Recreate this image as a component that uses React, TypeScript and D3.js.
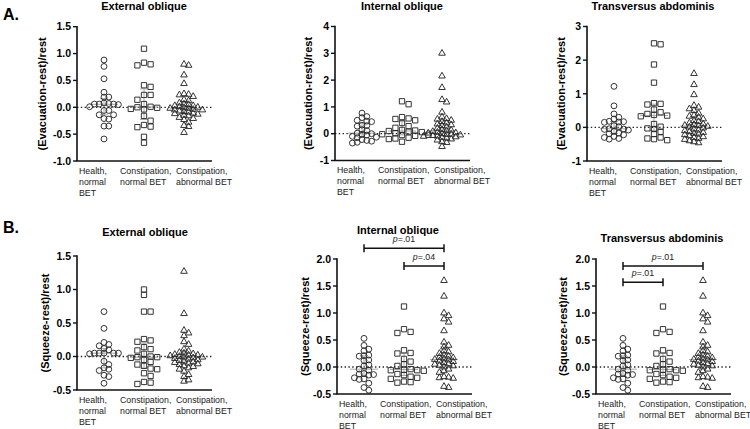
import * as d3 from 'd3';

const W = 750;
const H = 429;
const FONT = '"Liberation Sans", Arial, sans-serif';

// category labels (split in lines like the original)
const groups = ['Health, normal BET', 'Constipation, normal BET', 'Constipation, abnormal BET'];
const groupLines = [['Health,', 'normal', 'BET'], ['Constipation,', 'normal BET'], ['Constipation,', 'abnormal BET']];
const groupShapes = ['circle', 'square', 'triangle'];

// A. (Evacuation-rest)/rest
const evacExtHealth = [0.88, 0.76, 0.53, 0.28, 0.19, 0.19, 0.08, 0.06, 0.06, 0.05, 0.06, 0.07, 0.01, -0.06, -0.06, -0.14, -0.14, -0.21, -0.22, -0.35, -0.35, -0.59];
const evacExtNormal = [1.09, 0.83, 0.8, 0.78, 0.41, 0.38, 0.23, 0.23, 0.14, 0.06, 0.0, -0.01, 0.01, -0.04, -0.03, -0.16, -0.25, -0.33, -0.37, -0.36, -0.55, -0.66];
const evacExtAbnormal = [0.8, 0.78, 0.6, 0.44, 0.25, 0.23, 0.24, 0.2, 0.14, 0.12, 0.08, 0.06, 0.05, 0.03, 0.03, 0.01, 0.0, -0.01, -0.02, -0.02, -0.04, -0.05, -0.05, -0.07, -0.08, -0.09, -0.11, -0.12, -0.13, -0.15, -0.16, -0.19, -0.21, -0.23, -0.28, -0.34, -0.36, -0.47];

const evacIntHealth = [0.77, 0.64, 0.6, 0.5, 0.47, 0.45, 0.32, 0.3, 0.28, 0.15, 0.12, 0.02, 0.0, -0.02, -0.05, -0.1, -0.13, -0.15, -0.22, -0.25, -0.28, -0.32, -0.35];
const evacIntNormal = [1.21, 1.1, 0.62, 0.57, 0.55, 0.5, 0.4, 0.28, 0.22, 0.14, 0.12, 0.1, 0.08, 0.06, 0.02, -0.02, -0.04, -0.05, -0.08, -0.15, -0.18, -0.2, -0.3];
const evacIntAbnormal = [3.0, 2.15, 1.72, 1.27, 1.18, 0.8, 0.62, 0.56, 0.54, 0.5, 0.45, 0.4, 0.36, 0.33, 0.3, 0.25, 0.2, 0.15, 0.13, 0.11, 0.08, 0.05, 0.03, 0.02, 0.0, -0.02, -0.03, -0.05, -0.07, -0.09, -0.1, -0.12, -0.14, -0.17, -0.2, -0.24, -0.3, -0.33, -0.48];

const evacTraHealth = [1.22, 0.64, 0.4, 0.3, 0.25, 0.18, 0.17, 0.16, 0.15, 0.05, 0.02, -0.04, -0.05, -0.06, -0.08, -0.12, -0.17, -0.19, -0.22, -0.27, -0.3, -0.33, -0.35];
const evacTraNormal = [2.5, 2.47, 1.87, 1.33, 0.72, 0.7, 0.68, 0.53, 0.45, 0.4, 0.37, 0.35, 0.33, 0.1, 0.02, -0.03, -0.05, -0.13, -0.2, -0.3, -0.33, -0.35, -0.38];
const evacTraAbnormal = [1.6, 1.27, 0.97, 0.65, 0.6, 0.55, 0.5, 0.42, 0.36, 0.33, 0.3, 0.25, 0.2, 0.17, 0.13, 0.1, 0.08, 0.06, 0.05, 0.03, 0.01, -0.02, -0.05, -0.08, -0.1, -0.13, -0.15, -0.18, -0.2, -0.22, -0.25, -0.28, -0.3, -0.33, -0.36, -0.4, -0.43, -0.46];

// B. (Squeeze-rest)/rest
const sqzExtHealth = [0.67, 0.42, 0.21, 0.18, 0.16, 0.12, 0.1, 0.05, 0.05, 0.05, 0.05, 0.05, 0.04, -0.07, -0.12, -0.17, -0.19, -0.21, -0.28, -0.3, -0.4];
const sqzExtNormal = [1.0, 0.92, 0.67, 0.67, 0.26, 0.24, 0.22, 0.14, 0.11, 0.09, 0.04, 0.0, -0.01, -0.01, -0.02, -0.05, -0.08, -0.12, -0.14, -0.18, -0.19, -0.25, -0.29, -0.38, -0.39, -0.41];
const sqzExtAbnormal = [1.27, 0.64, 0.39, 0.35, 0.31, 0.22, 0.18, 0.11, 0.08, 0.06, 0.05, 0.04, 0.03, 0.02, 0.02, 0.01, 0.0, -0.01, -0.01, -0.02, -0.03, -0.04, -0.05, -0.06, -0.07, -0.08, -0.09, -0.1, -0.11, -0.12, -0.14, -0.15, -0.17, -0.19, -0.22, -0.27, -0.3, -0.35, -0.37];

const sqzIntHealth = [0.53, 0.4, 0.33, 0.3, 0.22, 0.21, 0.2, 0.13, 0.12, 0.04, 0.02, -0.04, -0.06, -0.12, -0.13, -0.14, -0.15, -0.2, -0.22, -0.23, -0.3, -0.38, -0.43];
const sqzIntNormal = [1.12, 0.7, 0.65, 0.63, 0.31, 0.26, 0.25, 0.15, 0.1, 0.05, 0.02, -0.04, -0.05, -0.06, -0.06, -0.07, -0.13, -0.15, -0.18, -0.2, -0.22, -0.27, -0.28, -0.29];
const sqzIntAbnormal = [1.6, 1.31, 1.0, 0.95, 0.89, 0.83, 0.67, 0.46, 0.4, 0.37, 0.3, 0.28, 0.25, 0.22, 0.2, 0.18, 0.17, 0.15, 0.14, 0.13, 0.11, 0.1, 0.08, 0.06, 0.05, 0.03, 0.02, 0.0, -0.04, -0.07, -0.1, -0.18, -0.19, -0.2, -0.21, -0.36, -0.38];

// the transversus squeeze panel shows the same points as internal oblique
const sqzTraHealth = sqzIntHealth;
const sqzTraNormal = sqzIntNormal;
const sqzTraAbnormal = sqzIntAbnormal;

type Bracket = { from: number; to: number; at: number; label: string };
type PanelCfg = {
  title: string;
  titleDx: number;
  titleY: number;
  yLabel: string;
  labelDx: number;
  x0: number;
  top: number;
  bottom: number;
  domain: [number, number];
  ticks: number[];
  fmt: string;
  data: number[][];
  brackets: Bracket[];
};

const panels: PanelCfg[] = [
  { title: 'External oblique', titleDx: 67, titleY: 9.5, yLabel: '(Evacuation-rest)/rest', labelDx: -35, x0: 77, top: 26.7, bottom: 161, domain: [-1, 1.5], ticks: [-1, -0.5, 0, 0.5, 1, 1.5], fmt: '.1f', data: [evacExtHealth, evacExtNormal, evacExtAbnormal], brackets: [] },
  { title: 'Internal oblique', titleDx: 67, titleY: 9.5, yLabel: '(Evacuation-rest)/rest', labelDx: -27, x0: 335, top: 26.5, bottom: 160.5, domain: [-1, 4], ticks: [-1, 0, 1, 2, 3, 4], fmt: 'd', data: [evacIntHealth, evacIntNormal, evacIntAbnormal], brackets: [] },
  { title: 'Transversus abdominis', titleDx: 66, titleY: 9.5, yLabel: '(Evacuation-rest)/rest', labelDx: -26, x0: 587, top: 26.5, bottom: 161, domain: [-1, 3], ticks: [-1, 0, 1, 2, 3], fmt: 'd', data: [evacTraHealth, evacTraNormal, evacTraAbnormal], brackets: [] },
  { title: 'External oblique', titleDx: 68, titleY: 236, yLabel: '(Squeeze-rest)/rest', labelDx: -32, x0: 77, top: 256, bottom: 390, domain: [-0.5, 1.5], ticks: [-0.5, 0, 0.5, 1, 1.5], fmt: '.1f', data: [sqzExtHealth, sqzExtNormal, sqzExtAbnormal], brackets: [] },
  { title: 'Internal oblique', titleDx: 61, titleY: 233.5, yLabel: '(Squeeze-rest)/rest', labelDx: -32, x0: 337, top: 259, bottom: 394, domain: [-0.5, 2], ticks: [-0.5, 0, 0.5, 1, 1.5, 2], fmt: '.1f', data: [sqzIntHealth, sqzIntNormal, sqzIntAbnormal], brackets: [{ from: 0, to: 2, at: 2.2, label: '.01' }, { from: 1, to: 2, at: 1.87, label: '.04' }] },
  { title: 'Transversus abdominis', titleDx: 66, titleY: 242, yLabel: '(Squeeze-rest)/rest', labelDx: -33, x0: 596, top: 259, bottom: 394, domain: [-0.5, 2], ticks: [-0.5, 0, 0.5, 1, 1.5, 2], fmt: '.1f', data: [sqzTraHealth, sqzTraNormal, sqzTraAbnormal], brackets: [{ from: 0, to: 2, at: 1.87, label: '.01' }, { from: 0, to: 1, at: 1.57, label: '.01' }] },
];

const symbolType: Record<string, d3.SymbolType> = {
  circle: d3.symbolCircle,
  square: d3.symbolSquare,
  triangle: d3.symbolTriangle,
};
const symbolSize: Record<string, number> = { circle: 27, square: 28, triangle: 19 };
// horizontal / vertical clearance used by the swarm layout
const gapX: Record<string, number> = { circle: 4.8, square: 6.6, triangle: 4.6 };
const gapY: Record<string, number> = { circle: 4.4, square: 5, triangle: 3.7 };

// simple beeswarm: put each point at the nearest free horizontal slot
function swarm(values: number[], y: d3.ScaleLinear<number, number>, cx: number, gx: number, gy: number) {
  const pts = values.map((v) => ({ v, y: y(v), x: cx })).sort((a, b) => a.y - b.y);
  const placed: { x: number; y: number }[] = [];
  const step = gx / 2;
  pts.forEach((p) => {
    for (let k = 0; k < 60; k++) {
      const off = k === 0 ? 0 : (k % 2 ? 1 : -1) * Math.ceil(k / 2) * step;
      const x = cx + off;
      const hit = placed.some((q) => Math.abs(q.x - x) < gx - 0.01 && Math.abs(q.y - p.y) < gy);
      if (!hit) {
        p.x = x;
        break;
      }
    }
    placed.push({ x: p.x, y: p.y });
  });
  return pts;
}

function Panel({ p }: { p: PanelCfg }) {
  const y = d3.scaleLinear().domain(p.domain).range([p.bottom, p.top]);
  const x = d3.scalePoint<string>().domain(groups).range([p.x0 + 27, p.x0 + 107]);
  const xEnd = p.x0 + 135;
  const fmt = (v: number) => d3.format(p.fmt)(v).replace('\u2212', '-');

  return (
    <g>
      <text x={p.x0 + p.titleDx} y={p.titleY} textAnchor="middle" fontSize={11} fontWeight="bold">
        {p.title}
      </text>
      <text
        transform={`translate(${p.x0 + p.labelDx},${(p.top + p.bottom) / 2}) rotate(-90)`}
        textAnchor="middle"
        fontSize={11}
        fontWeight="bold"
        dy="0.35em"
      >
        {p.yLabel}
      </text>

      {/* zero reference */}
      <line x1={p.x0} x2={xEnd} y1={y(0)} y2={y(0)} stroke="#222" strokeWidth={1.3} strokeDasharray="1.4,2.4" />

      {/* summary lines: median and interquartile range */}
      {p.data.map((vals, gi) => {
        const s = vals.slice().sort(d3.ascending);
        const med = d3.quantile(s, 0.5) as number;
        const q1 = d3.quantile(s, 0.25) as number;
        const q3 = d3.quantile(s, 0.75) as number;
        const cx = x(groups[gi]) as number;
        return (
          <g key={'s' + gi} stroke="#a8a8a8" strokeWidth={1}>
            <line x1={cx - 14} x2={cx + 14} y1={y(med)} y2={y(med)} />
            <line x1={cx} x2={cx} y1={y(q1)} y2={y(q3)} />
            <line x1={cx - 4} x2={cx + 4} y1={y(q1)} y2={y(q1)} />
            <line x1={cx - 4} x2={cx + 4} y1={y(q3)} y2={y(q3)} />
          </g>
        );
      })}

      {p.data.map((vals, gi) => {
        const shape = groupShapes[gi];
        const path = d3.symbol().type(symbolType[shape]).size(symbolSize[shape])() as string;
        const pts = swarm(vals, y, x(groups[gi]) as number, gapX[shape], gapY[shape]);
        return (
          <g key={'g' + gi}>
            {pts.map((pt, i) => (
              <path key={i} d={path} transform={`translate(${pt.x},${pt.y})`} fill="none" stroke="#2a2a2a" strokeWidth={0.95} />
            ))}
          </g>
        );
      })}

      {/* axes */}
      <line x1={p.x0} x2={p.x0} y1={p.top - 0.7} y2={p.bottom} stroke="#111" strokeWidth={1.6} />
      <line x1={p.x0 - 0.8} x2={xEnd} y1={p.bottom} y2={p.bottom} stroke="#111" strokeWidth={1.6} />
      {p.ticks.map((t) => (
        <g key={t}>
          <line x1={p.x0 - 4} x2={p.x0} y1={y(t)} y2={y(t)} stroke="#111" strokeWidth={1.4} />
          <text x={p.x0 - 6} y={y(t)} dy="0.36em" textAnchor="end" fontSize={10.5} fontWeight="bold">
            {fmt(t)}
          </text>
        </g>
      ))}

      {groupLines.map((lines, gi) => (
        <text key={'c' + gi} x={p.x0 + [2, 43, 99][gi]} y={p.bottom + 12.5} fontSize={8.8} fill="#222">
          {lines.map((l, li) => (
            <tspan key={li} x={p.x0 + [2, 43, 99][gi]} dy={li === 0 ? 0 : 11}>
              {l}
            </tspan>
          ))}
        </text>
      ))}

      {p.brackets.map((b, bi) => {
        const xa = x(groups[b.from]) as number;
        const xb = x(groups[b.to]) as number;
        const yy = y(b.at);
        return (
          <g key={'b' + bi}>
            <line x1={xa} x2={xb} y1={yy} y2={yy} stroke="#111" strokeWidth={1.5} />
            <line x1={xa} x2={xa} y1={yy - 4} y2={yy + 4} stroke="#111" strokeWidth={1.5} />
            <line x1={xb} x2={xb} y1={yy - 4} y2={yy + 4} stroke="#111" strokeWidth={1.5} />
            <text x={(xa + xb) / 2} y={yy - 6} textAnchor="middle" fontSize={8.8} fill="#222">
              <tspan fontStyle="italic">p</tspan>={b.label}
            </text>
          </g>
        );
      })}
    </g>
  );
}

export default function App() {
  return (
    <svg
      width={W}
      height={H}
      style={{ position: 'absolute', left: 0, top: 0, background: '#fff' }}
      fontFamily={FONT}
    >
      <text x={3} y={20} fontSize={16} fontWeight="bold">A.</text>
      <text x={3} y={233} fontSize={16} fontWeight="bold">B.</text>
      {panels.map((p, i) => (
        <Panel key={i} p={p} />
      ))}
    </svg>
  );
}
